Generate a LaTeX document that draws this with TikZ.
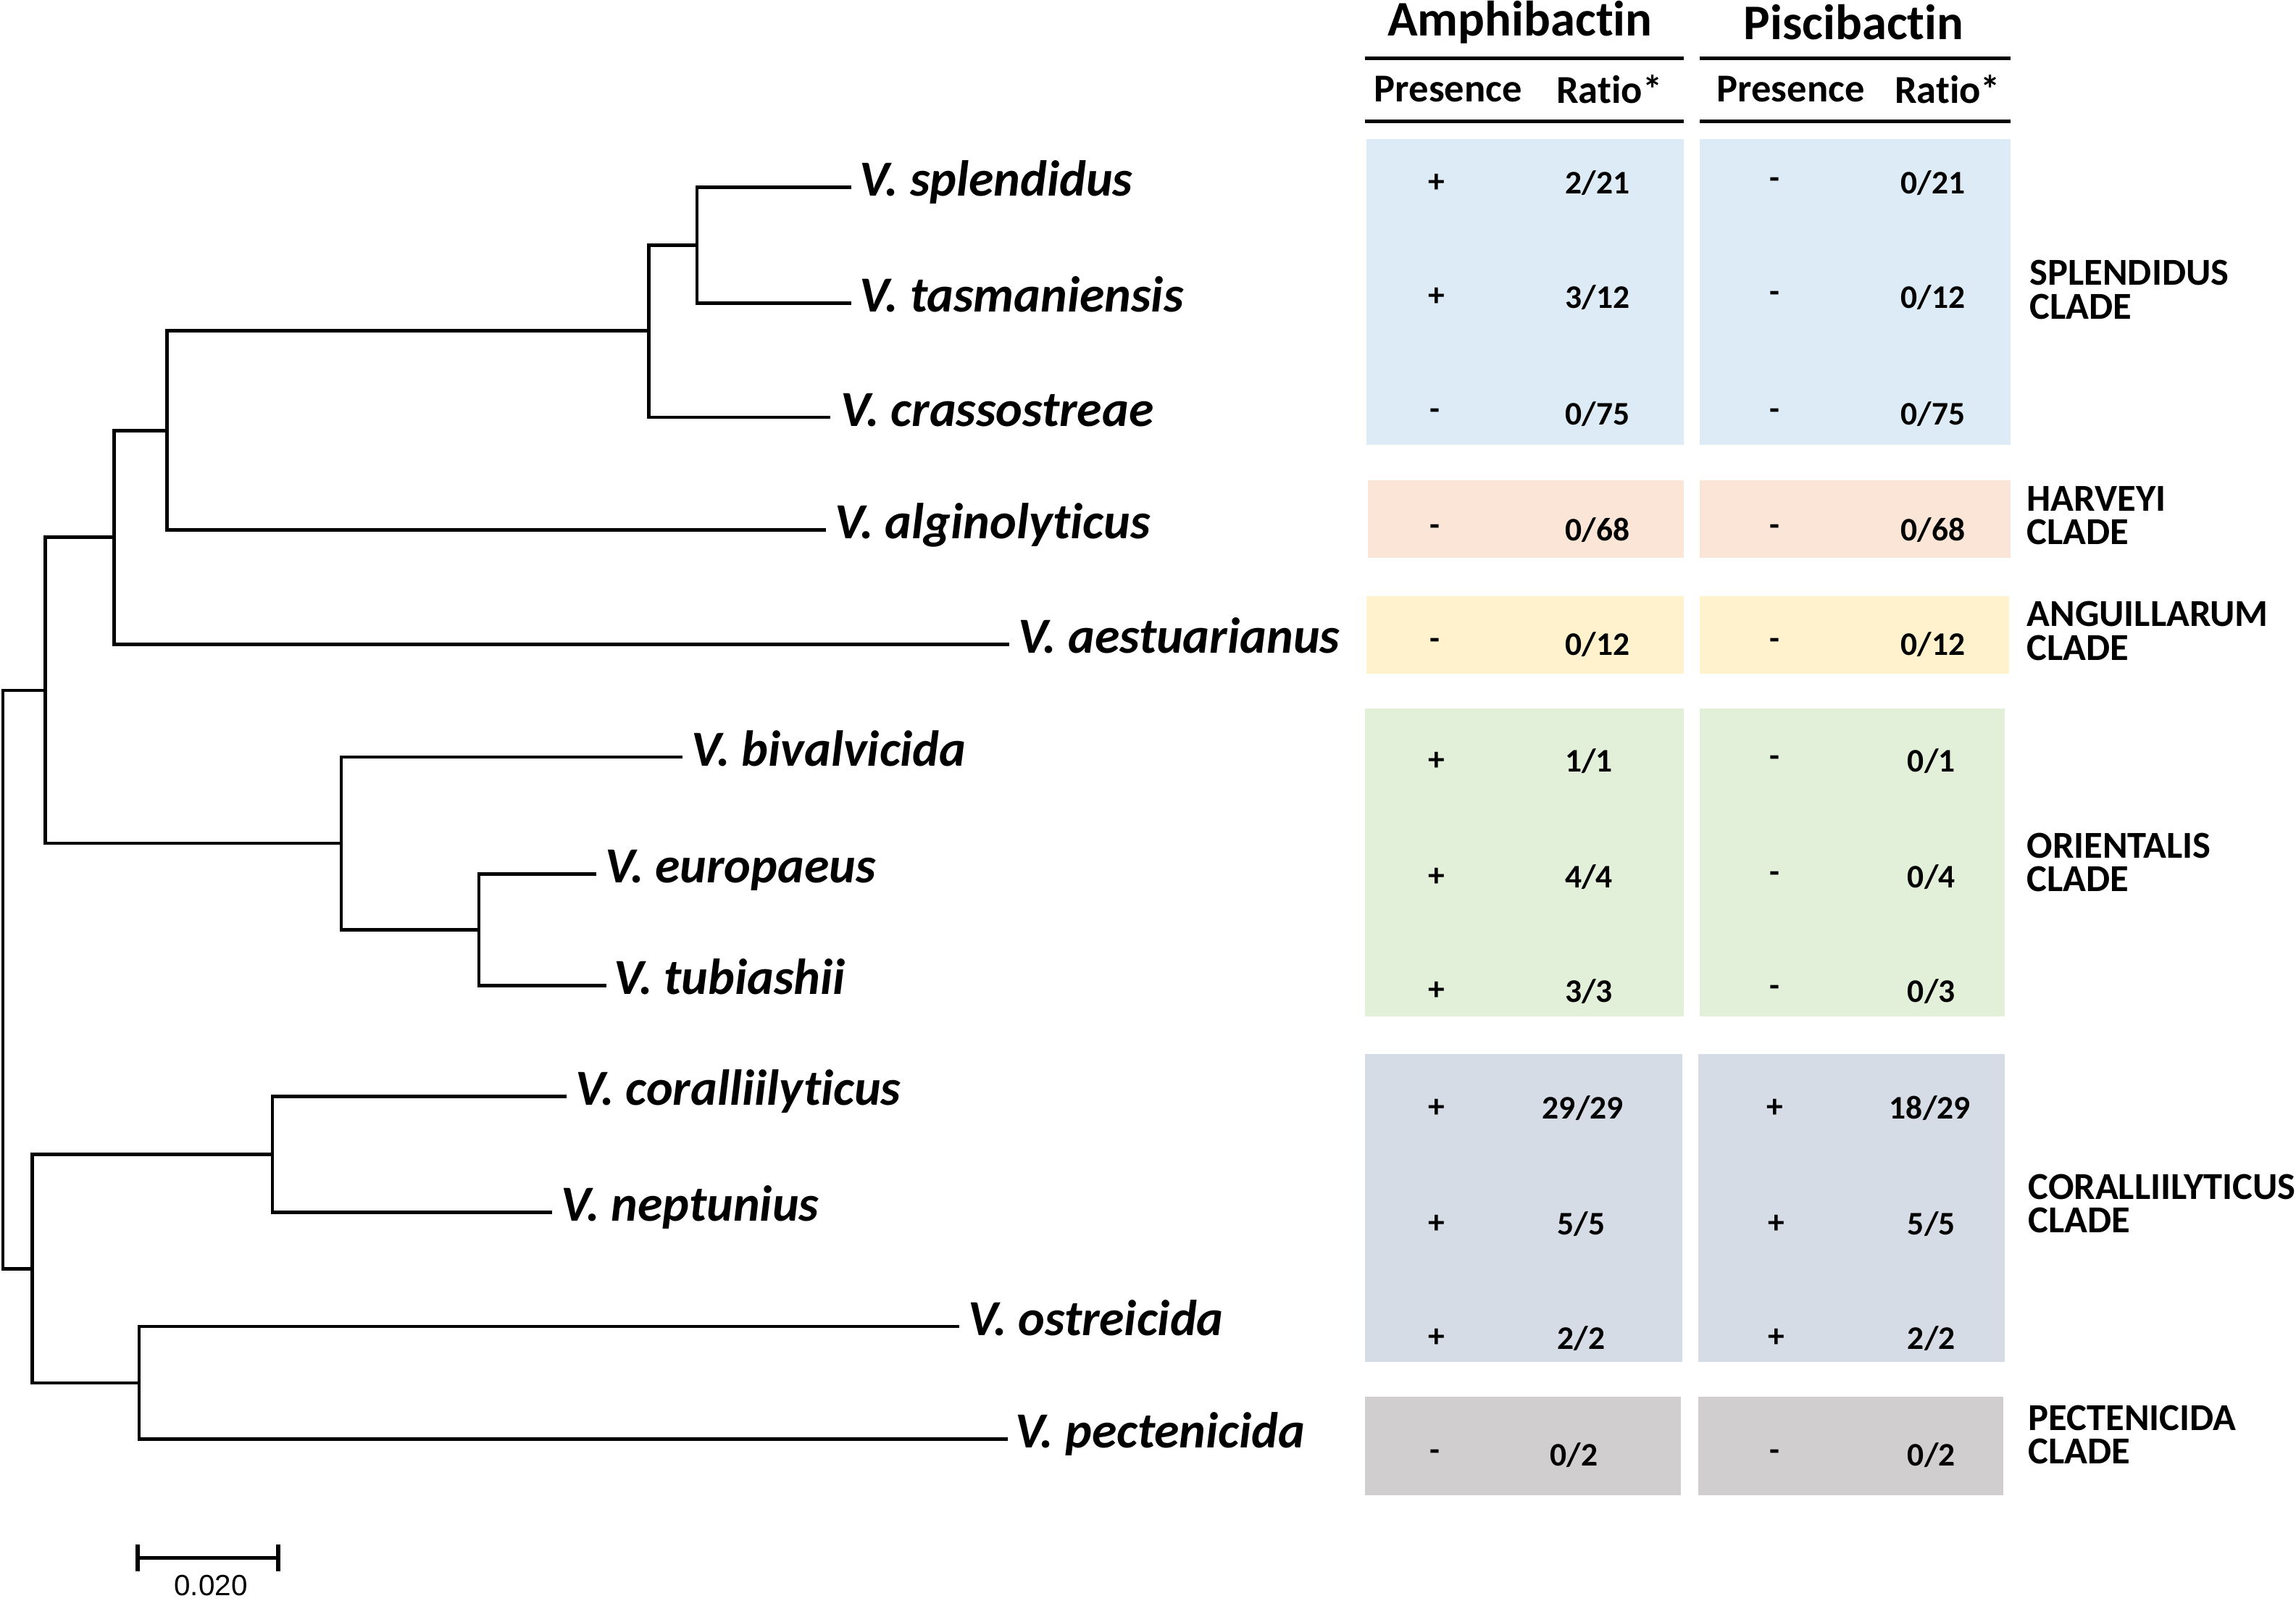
\documentclass[tikz,border=0pt]{standalone}
\usepackage{fontspec}
\setmainfont{Carlito}[Ligatures=NoCommon]
\newfontfamily\arialfont{Liberation Sans}
\definecolor{cblue}{HTML}{DDEBF7}
\definecolor{cpeach}{HTML}{FBE5D6}
\definecolor{cyellow}{HTML}{FFF2CC}
\definecolor{cgreen}{HTML}{E2F0D9}
\definecolor{cslate}{HTML}{D6DCE5}
\definecolor{cgray}{HTML}{D0CECE}
\begin{document}
\begin{tikzpicture}[x=1pt,y=-1pt,
  branch/.style={line width=2.3pt, line cap=rect, line join=miter},
  sp/.style={font=\fontsize{34.5}{38}\selectfont\bfseries\itshape, anchor=base west, inner sep=0pt},
  hdr/.style={font=\fontsize{34}{38}\selectfont\bfseries, inner sep=0pt},
  subhdr/.style={font=\fontsize{27}{30}\selectfont\bfseries, inner sep=0pt},
  cell/.style={font=\fontsize{22.5}{24}\selectfont\bfseries, inner sep=0pt},
  clade/.style={font=\fontsize{26}{23}\selectfont\bfseries, anchor=west, align=left, inner sep=0pt},
  rule/.style={line width=2.4pt},
  band/.style={draw=none}]
\useasboundingbox (0,0) rectangle (1568,1093);

% ---------- tree: leaf tips ----------
\coordinate (tSpl) at (580,128);
\coordinate (tTas) at (580,207);
\coordinate (tCra) at (566,285);
\coordinate (tAlg) at (563,362);
\coordinate (tAes) at (688,440);
\coordinate (tBiv) at (465,517);
\coordinate (tEur) at (406,597);
\coordinate (tTub) at (413,673);
\coordinate (tCor) at (386,749);
\coordinate (tNep) at (376,828);
\coordinate (tOst) at (654,906);
\coordinate (tPec) at (687,983);

% ---------- tree: internal nodes ----------
\coordinate (nST) at (476,167.5);
\coordinate (nSTC) at (443,226);
\coordinate (nSTCA) at (114,294);
\coordinate (nSTCAE) at (78,367);
\coordinate (nO2) at (327,635);
\coordinate (nO) at (233,576);
\coordinate (nUp) at (31,471.5);
\coordinate (nCN) at (186,788.5);
\coordinate (nOP) at (95,944.5);
\coordinate (nLow) at (22,866.5);
\coordinate (nRoot) at (2,669);

% ---------- species labels ----------
\node[sp] (lSpl) at (587,134) {V. splendidus};
\node[sp] (lTas) at (587,213) {V. tasmaniensis};
\node[sp] (lCra) at (574,291) {V. crassostreae};
\node[sp] (lAlg) at (570,368) {V. alginolyticus};
\node[sp] (lAes) at (695,446) {V. aestuarianus};
\node[sp] (lBiv) at (472,523) {V. bivalvicida};
\node[sp] (lEur) at (413,603) {V. europaeus};
\node[sp] (lTub) at (419,679) {V. tubiashii};
\node[sp] (lCor) at (393,755) {V. coralliilyticus};
\node[sp] (lNep) at (383,834) {V. neptunius};
\node[sp] (lOst) at (661,912) {V. ostreicida};
\node[sp] (lPec) at (693,989) {V. pectenicida};

% ---------- branches ----------
\draw[branch] (nST) |- (tSpl);
\draw[branch] (nST) |- (tTas);
\draw[branch] (nSTC) |- (nST);
\draw[branch] (nSTC) |- (tCra);
\draw[branch] (nSTCA) |- (nSTC);
\draw[branch] (nSTCA) |- (tAlg);
\draw[branch] (nSTCAE) |- (nSTCA);
\draw[branch] (nSTCAE) |- (tAes);
\draw[branch] (nO2) |- (tEur);
\draw[branch] (nO2) |- (tTub);
\draw[branch] (nO) |- (tBiv);
\draw[branch] (nO) |- (nO2);
\draw[branch] (nUp) |- (nSTCAE);
\draw[branch] (nUp) |- (nO);
\draw[branch] (nCN) |- (tCor);
\draw[branch] (nCN) |- (tNep);
\draw[branch] (nOP) |- (tOst);
\draw[branch] (nOP) |- (tPec);
\draw[branch] (nLow) |- (nCN);
\draw[branch] (nLow) |- (nOP);
\draw[branch] (nRoot) |- (nUp);
\draw[branch] (nRoot) |- (nLow);

% ---------- scale bar ----------
\coordinate (sb1) at (94,1064);
\coordinate (sb2) at (190,1064);
\draw[line width=2.4pt] (sb1) -- (sb2);
\draw[line width=2.8pt] ([yshift=-9pt]sb1) -- ([yshift=9pt]sb1);
\draw[line width=2.8pt] ([yshift=-9pt]sb2) -- ([yshift=9pt]sb2);
\node[font=\arialfont\fontsize{20}{21}\selectfont, inner sep=0pt] (sbl) at (144,1083) {0.020};

% ---------- colored bands ----------
\fill[cblue]   (933,95) rectangle (1150,304);
\fill[cblue]   (1161,95) rectangle (1373,304);
\fill[cpeach]  (934,328) rectangle (1150,381);
\fill[cpeach]  (1161,328) rectangle (1373,381);
\fill[cyellow] (933,407) rectangle (1150,460);
\fill[cyellow] (1161,407) rectangle (1372,460);
\fill[cgreen]  (932,484) rectangle (1150,694);
\fill[cgreen]  (1161,484) rectangle (1369,694);
\fill[cslate]  (932,720) rectangle (1149,930);
\fill[cslate]  (1160,720) rectangle (1369,930);
\fill[cgray]   (932,954) rectangle (1148,1021);
\fill[cgray]   (1160,954) rectangle (1368,1021);

% ---------- header ----------
\node[hdr] (hA) at (1038,15) {Amphibactin};
\node[hdr] (hP) at (1266,15) {Piscibactin};
\coordinate (r1a) at (932,40);  \coordinate (r1b) at (1150,40);
\coordinate (r1c) at (1161,40); \coordinate (r1d) at (1373,40);
\coordinate (r2a) at (932,83);  \coordinate (r2b) at (1150,83);
\coordinate (r2c) at (1161,83); \coordinate (r2d) at (1373,83);
\draw[rule] (r1a) -- (r1b);
\draw[rule] (r1c) -- (r1d);
\draw[rule] (r2a) -- (r2b);
\draw[rule] (r2c) -- (r2d);
\node[subhdr] (sAp) at (989,61) {Presence};
\node[subhdr] (sAr) at (1099,61) {Ratio*};
\node[subhdr] (sPp) at (1223,61) {Presence};
\node[subhdr] (sPr) at (1330,61) {Ratio*};

% ---------- table cells ----------
\node[cell] at (981,125) {+};  \node[cell] at (1091,125) {2/21};
\node[cell] at (1212,125) {-}; \node[cell] at (1320,125) {0/21};
\node[cell] at (981,203) {+};  \node[cell] at (1091,203) {3/12};
\node[cell] at (1212,203) {-}; \node[cell] at (1320,203) {0/12};
\node[cell] at (980,283) {-};  \node[cell] at (1091,283) {0/75};
\node[cell] at (1212,283) {-}; \node[cell] at (1320,283) {0/75};
\node[cell] at (980,362) {-};  \node[cell] at (1091,362) {0/68};
\node[cell] at (1212,362) {-}; \node[cell] at (1320,362) {0/68};
\node[cell] at (980,440) {-};  \node[cell] at (1091,440) {0/12};
\node[cell] at (1212,440) {-}; \node[cell] at (1320,440) {0/12};
\node[cell] at (981,520) {+};  \node[cell] at (1085,520) {1/1};
\node[cell] at (1212,520) {-}; \node[cell] at (1319,520) {0/1};
\node[cell] at (981,599) {+};  \node[cell] at (1085,599) {4/4};
\node[cell] at (1212,599) {-}; \node[cell] at (1319,599) {0/4};
\node[cell] at (981,677) {+};  \node[cell] at (1085,677) {3/3};
\node[cell] at (1212,677) {-}; \node[cell] at (1319,677) {0/3};
\node[cell] at (981,757) {+};  \node[cell] at (1081,757) {29/29};
\node[cell] at (1212,757) {+}; \node[cell] at (1318,757) {18/29};
\node[cell] at (981,836) {+};  \node[cell] at (1080,836) {5/5};
\node[cell] at (1213,836) {+}; \node[cell] at (1319,836) {5/5};
\node[cell] at (981,914) {+};  \node[cell] at (1080,914) {2/2};
\node[cell] at (1213,914) {+}; \node[cell] at (1319,914) {2/2};
\node[cell] at (980,994) {-};  \node[cell] at (1075,994) {0/2};
\node[cell] at (1212,994) {-}; \node[cell] at (1319,994) {0/2};

% ---------- clade labels ----------
\node[clade] (cSpl) at (1386,198) {SPLENDIDUS\\CLADE};
\node[clade] (cHar) at (1384,352) {HARVEYI\\CLADE};
\node[clade] (cAng) at (1384,431) {ANGUILLARUM\\CLADE};
\node[clade] (cOri) at (1384,589) {ORIENTALIS\\CLADE};
\node[clade] (cCor) at (1385,822) {CORALLIILYTICUS\\CLADE};
\node[clade] (cPec) at (1385,980) {PECTENICIDA\\CLADE};
\end{tikzpicture}
\end{document}
